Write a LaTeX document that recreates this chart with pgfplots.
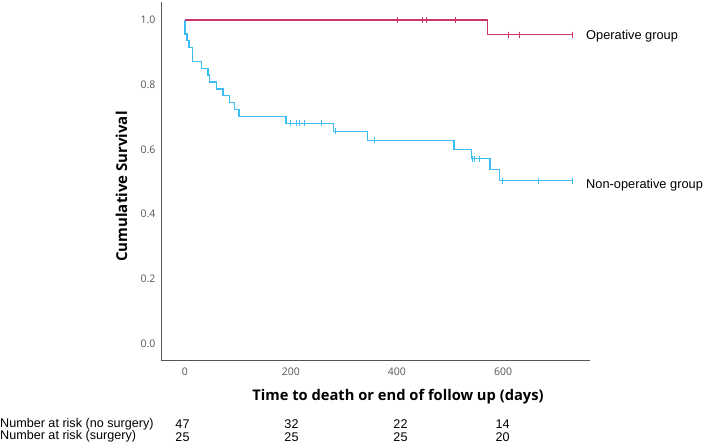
\documentclass[border=0pt]{standalone}
\usepackage{fontspec}
\setmainfont{Liberation Sans}
\newfontfamily\osans{Open Sans}
\usepackage{pgfplots}
\pgfplotsset{compat=1.18}
\definecolor{OpPink}{HTML}{C8346C}
\definecolor{NonOpBlue}{HTML}{3DBDF5}
\definecolor{AxisGray}{HTML}{555555}

\begin{document}
\begin{tikzpicture}
\path[use as bounding box] (0pt,0pt) rectangle (706pt,446pt);
\begin{axis}[
    at={(161pt,85pt)}, anchor=south west,
    scale only axis,
    width=429pt, height=359pt,
    xmin=-45, xmax=764,
    ymin=-0.054, ymax=1.056,
    axis x line=bottom, axis y line=left,
    axis line style={-, AxisGray, line width=1pt},
    major tick length=0pt,
    xtick={0,200,400,600},
    ytick={0,0.2,0.4,0.6,0.8,1.0},
    tick label style={font=\osans\fontsize{10.5}{12}\selectfont, text=AxisGray},
    /pgf/number format/assume math mode=true,
    yticklabel style={/pgf/number format/.cd, fixed, fixed zerofill, precision=1, /tikz/.cd, xshift=-2pt},
    xticklabel style={yshift=-3pt},
    clip=false,
]
% non-operative group
\addplot[const plot mark left, draw=NonOpBlue, line width=1.4pt] coordinates {
(0,1) (0,0.9574) (4.3,0.9362) (7.5,0.9149) (14,0.8723) (31.5,0.8511)
(44,0.8298) (47,0.8085) (60,0.7872) (72,0.7660) (84,0.7447) (94,0.7234)
(102,0.7021) (190.5,0.6809) (280,0.656) (344,0.628) (507.5,0.600)
(541,0.572) (575.5,0.538) (593,0.504) (731,0.504)
};
\addplot[only marks, mark=|, mark size=3pt, color=NonOpBlue, mark options={line width=1.1pt}] coordinates {
(199,0.6809) (211,0.6809) (216,0.6809) (225,0.6809) (258,0.6809)
(284,0.656) (357,0.628) (542.5,0.572) (547,0.572) (555,0.572)
(599,0.504) (667,0.504) (731,0.504)
};
% operative group
\addplot[const plot mark left, draw=OpPink, line width=1.4pt] coordinates {
(0,1) (571,0.955) (731,0.955)
};
\addplot[only marks, mark=|, mark size=3pt, color=OpPink, mark options={line width=1.1pt}] coordinates {
(400.5,1) (448.5,1) (456,1) (509.5,1)
(610,0.955) (631,0.955) (731,0.955)
};
\end{axis}
% group labels
\node[anchor=west, inner sep=0pt, font=\fontsize{12.8}{14}\selectfont] at (586pt,409.5pt) {Operative group};
\node[anchor=west, inner sep=0pt, font=\fontsize{12.8}{14}\selectfont] at (586pt,261pt) {Non-operative group};
% axis titles
\node[rotate=90, inner sep=0pt, font=\osans\bfseries\fontsize{15}{17}\selectfont] at (121.5pt,259.5pt) {Cumulative Survival};
\node[inner sep=0pt, font=\osans\bfseries\fontsize{14.7}{17}\selectfont] at (398pt,49pt) {Time to death or end of follow up (days)};
% numbers at risk
\begin{scope}[every node/.style={inner sep=0pt, font=\fontsize{12.6}{14}\selectfont}]
\node[anchor=west] at (0pt,22pt) {Number at risk (no surgery)};
\node[anchor=west] at (0pt,9.3pt) {Number at risk (surgery)};
\node at (182.5pt,22pt) {47};
\node at (291.5pt,22pt) {32};
\node at (400.5pt,22pt) {22};
\node at (502.5pt,22pt) {14};
\node at (182.5pt,9.3pt) {25};
\node at (291.5pt,9.3pt) {25};
\node at (400.5pt,9.3pt) {25};
\node at (502.5pt,9.3pt) {20};
\end{scope}
\end{tikzpicture}
\end{document}
